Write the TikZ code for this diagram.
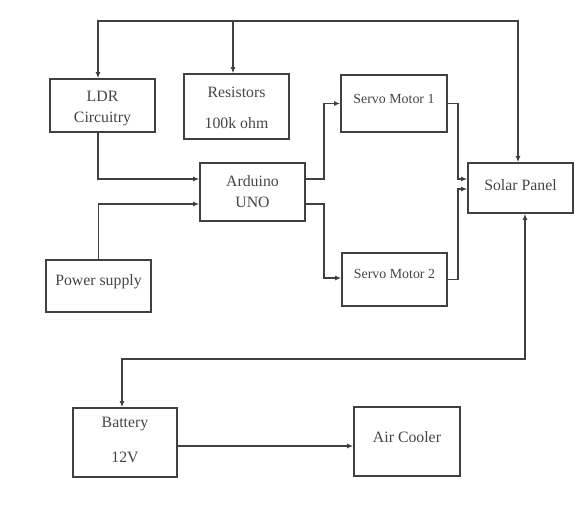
\documentclass[tikz,border=0pt]{standalone}
\usepackage{fontspec}
\setmainfont{Liberation Serif}
\usetikzlibrary{arrows.meta}
\definecolor{ln}{HTML}{404040}
\definecolor{tx}{HTML}{444444}
\tikzset{
  blk/.style={draw=ln, line width=1.6pt, minimum width=#1, inner sep=0pt},
  lbl/.style={text=tx, font=\fontsize{15.8}{17}\selectfont, inner sep=0pt},
  slbl/.style={text=tx, font=\fontsize{13.9}{15}\selectfont, inner sep=0pt},
  conn/.style={draw=ln, line width=1.5pt, -{Latex[length=6pt,width=5pt]}},
  conn2/.style={draw=ln, line width=1.5pt, {Latex[length=6pt,width=5pt]}-{Latex[length=6pt,width=5pt]}}
}
\begin{document}
\begin{tikzpicture}[x=1pt,y=-1pt]
\useasboundingbox (0,0) rectangle (578,506);
% boxes
\node[blk=105pt, minimum height=53pt] (LDR) at (102.5,105.5) {};
\node[blk=105pt, minimum height=65pt] (Res) at (236.5,106.5) {};
\node[blk=105pt, minimum height=58pt] (Ard) at (252.5,192) {};
\node[blk=106pt, minimum height=57pt] (S1) at (394,103.5) {};
\node[blk=105pt, minimum height=53pt] (S2) at (394.5,279.5) {};
\node[blk=105pt, minimum height=50pt] (Sol) at (520.5,188) {};
\node[blk=105pt, minimum height=52pt] (Pow) at (98.5,286) {};
\node[blk=104pt, minimum height=69pt] (Bat) at (125,442.5) {};
\node[blk=106pt, minimum height=69pt] (Air) at (407,441.5) {};
% texts
\node[lbl] (tLDR1) at (102.5,96) {LDR};
\node[lbl] (tLDR2) at (102.5,119) {Circuitry};
\node[lbl] (tRes1) at (236.5,92) {Resistors};
\node[lbl] (tRes2) at (236.5,123) {100k ohm};
\node[lbl] (tArd1) at (252.5,181) {Arduino};
\node[lbl] (tArd2) at (252.5,202) {UNO};
\node[slbl] (tS1) at (394,99) {Servo Motor 1};
\node[slbl] (tS2) at (394.5,274) {Servo Motor 2};
\node[lbl] (tSol) at (520.5,185) {Solar Panel};
\node[lbl] (tPow) at (98.5,282) {Power supply};
\node[lbl] (tBat1) at (125,424) {Battery};
\node[lbl] (tBat2) at (125,457) {12V};
\node[lbl] (tAir) at (407,437) {Air Cooler};
% connectors
\draw[conn2] ([xshift=-4.5pt]LDR.north) -- ++(0,-57) -| ([xshift=-2.5pt]Sol.north);
\coordinate (bus) at (0,22);
\draw[conn] ([xshift=-3.5pt]Res.north |- bus) -- ([xshift=-3.5pt]Res.north);
\draw[conn] ([xshift=-4.5pt]LDR.south) |- ([yshift=13pt]Ard.west);
\draw[conn] (Pow.north) |- ([yshift=-12pt]Ard.west);
\draw[conn] ([yshift=13pt]Ard.east) -- ++(18,0) |- (S1.west);
\draw[conn] ([yshift=-12pt]Ard.east) -- ++(18,0) |- ([yshift=1.5pt]S2.west);
\draw[conn] (S1.east) -- ++(10,0) |- ([yshift=9pt]Sol.west);
\draw[conn] (S2.east) -- ++(10,0) |- ([yshift=-1pt]Sol.west);
\draw[conn2] ([xshift=4.5pt]Sol.south) -- ++(0,145) -| ([xshift=-3pt]Bat.north);
\draw[conn] ([yshift=-3.5pt]Bat.east) -- ([yshift=-3.5pt]Bat.east -| Air.west);
\end{tikzpicture}
\end{document}
